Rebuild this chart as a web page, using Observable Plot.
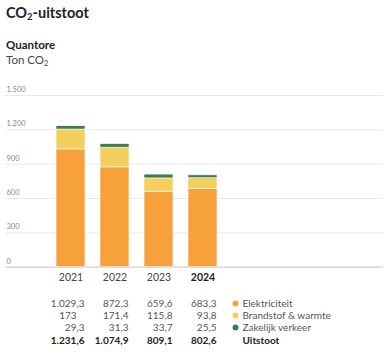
<!DOCTYPE html>
<html><head><meta charset="utf-8">
<script src="https://cdn.jsdelivr.net/npm/d3@7"></script>
<script src="https://cdn.jsdelivr.net/npm/@observablehq/plot@0.6"></script>
<style>
body{margin:0;background:#fff;font-family:Lato,"Open Sans",sans-serif;}
#wrap{position:relative;width:391px;height:353px;overflow:hidden;}
.t{position:absolute;left:6px;color:#222;white-space:nowrap;}
#title{top:4px;font-size:14.5px;font-weight:bold;}
#sub1{top:38px;font-size:11.5px;font-weight:bold;}
#sub2{top:53px;font-size:11.5px;color:#444;}
sub{font-size:0.65em;vertical-align:-0.25em;line-height:0;}
#chart{position:absolute;left:0;top:80px;}
</style></head>
<body><div id="wrap">
<div id="title" class="t">CO<sub>2</sub>-uitstoot</div>
<div id="sub1" class="t">Quantore</div>
<div id="sub2" class="t">Ton CO<sub>2</sub></div>
<div id="chart"></div>
</div>
<script>
const years = ["2021", "2022", "2023", "2024"];
const series = ["Elektriciteit", "Brandstof & warmte", "Zakelijk verkeer"];
const colors = ["#F7A13B", "#F3CF5E", "#3F7E48"];
const elektriciteit = [1029.3, 872.3, 659.6, 683.3];
const brandstof = [173, 171.4, 115.8, 93.8];
const verkeer = [29.3, 31.3, 33.7, 25.5];
const totals = [1231.6, 1074.9, 809.1, 802.6];
const yTicks = [0, 300, 600, 900, 1200, 1500];
const totalLabel = "Uitstoot";

const loc = d3.formatLocale({decimal: ",", thousands: ".", grouping: [3], currency: ["€", ""]});
const fmt = loc.format(",.1~f");
const fmtTick = loc.format(",d");
const pad = v => Number.isInteger(v) ? fmt(v) + "\u2008\u2007" : fmt(v);

const valuesBySeries = [elektriciteit, brandstof, verkeer];
const data = [];
series.forEach((s, i) => years.forEach((y, j) => data.push({year: y, series: s, value: valuesBySeries[i][j]})));

const rows = [];
valuesBySeries.forEach((arr, i) => years.forEach((y, j) => rows.push({year: y, row: i, label: pad(arr[j])})));
const totalRows = years.map((y, j) => ({year: y, label: fmt(totals[j])}));
const rowDy = [36.3, 48.3, 60.3];
const totalDy = 74;
const fs = 10;

const H = 273;
const common = {frameAnchor: "bottom", lineAnchor: "middle", fontSize: fs};
const plot = Plot.plot({
  width: 391, height: H,
  marginLeft: 5, marginRight: 8, marginTop: 15, marginBottom: 86.3,
  x: {type: "band", domain: years, range: [47.2, 225.2], paddingInner: 0.35, paddingOuter: 0.175, axis: null},
  y: {domain: [0, 1500], axis: null},
  color: {domain: series, range: colors},
  style: {fontFamily: "Lato, 'Open Sans', sans-serif"},
  marks: [
    Plot.ruleY(yTicks.filter(d => d > 0), {stroke: "#e9e9e9", strokeWidth: 1}),
    Plot.barY(data, {x: "year", y: "value", fill: "series", stroke: "white", strokeWidth: 0.6}),
    Plot.ruleY([0], {stroke: "#d0d0d0", strokeWidth: 1.2}),
    Plot.text(yTicks, {y: d => d, text: d => fmtTick(d), frameAnchor: "left", textAnchor: "start", dx: 1, dy: -6, fontSize: 7.5, fill: "#888"}),
    Plot.text(years.slice(0, 3), {...common, x: d => d, text: d => d, dy: 10.5, fontSize: 10.5, fill: "#444"}),
    Plot.text(years.slice(3), {...common, x: d => d, text: d => d, dy: 10.5, fontSize: 10.5, fill: "#222", fontWeight: "bold"}),
    ...rowDy.map((dy, i) => Plot.text(rows.filter(r => r.row === i), {...common, x: "year", text: "label", textAnchor: "end", dx: 13.5, dy, fill: "#555"})),
    Plot.text(totalRows, {...common, x: "year", text: "label", textAnchor: "end", dx: 13.5, dy: totalDy, fill: "#222", fontWeight: "bold"}),
    ...rowDy.map((dy, i) => Plot.dot([series[i]], {fill: d => d, frameAnchor: "bottom-left", dx: 230, dy, r: 3})),
    ...rowDy.map((dy, i) => Plot.text([series[i]], {...common, text: d => d, frameAnchor: "bottom-left", textAnchor: "start", dx: 237, dy, fill: "#555"})),
    Plot.text([totalLabel], {...common, text: d => d, frameAnchor: "bottom-left", textAnchor: "start", dx: 237, dy: totalDy, fill: "#222", fontWeight: "bold"})
  ]
});
document.getElementById("chart").appendChild(plot);
</script>
</body></html>
